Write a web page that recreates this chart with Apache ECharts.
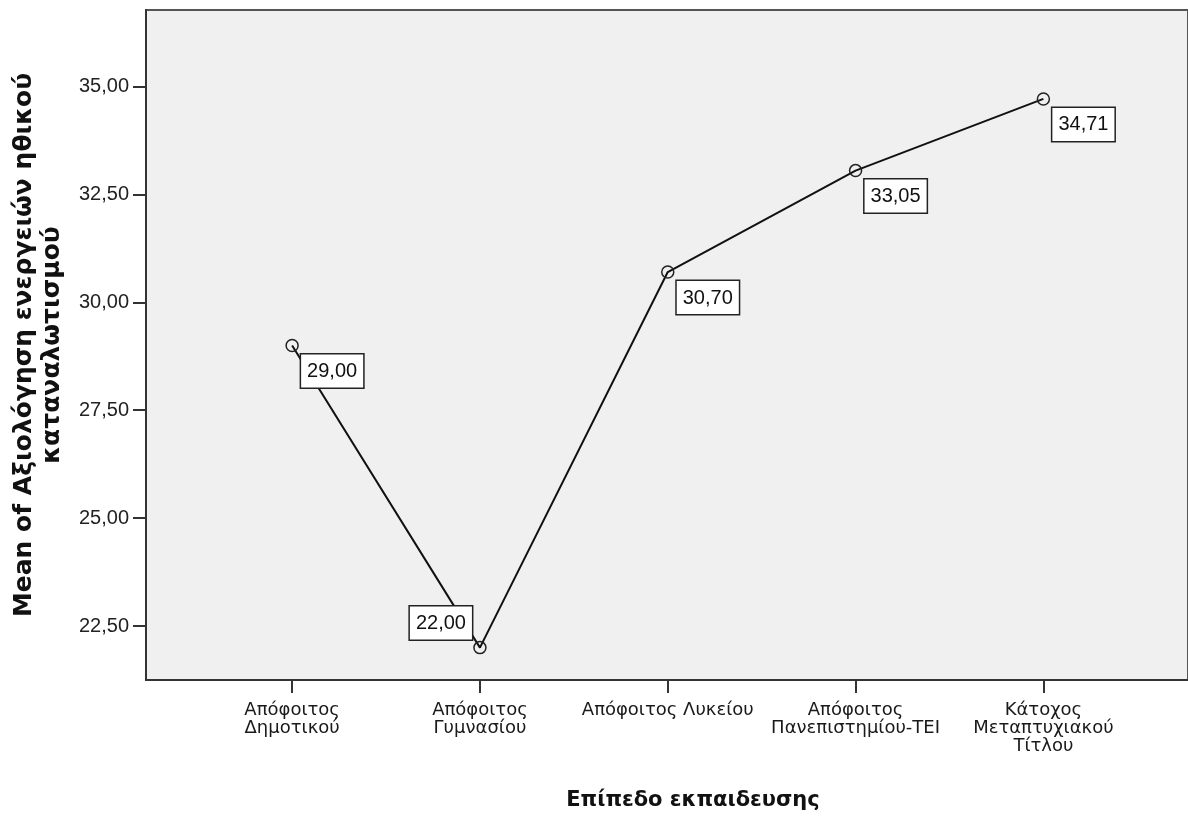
<!DOCTYPE html>
<html>
<head>
<meta charset="utf-8">
<script src="https://cdn.jsdelivr.net/npm/echarts@6/dist/echarts.min.js"></script>
<style>
html,body{margin:0;padding:0;background:#fff;}
#chart{width:1188px;height:817px;}
</style>
</head>
<body>
<div id="chart"></div>
<script>
const categories = [
  'Απόφοιτος\nΔημοτικού',
  'Απόφοιτος\nΓυμνασίου',
  'Απόφοιτος Λυκείου',
  'Απόφοιτος\nΠανεπιστημίου-ΤΕΙ',
  'Κάτοχος\nΜεταπτυχιακού\nΤίτλου'
];
const means = [29.00, 22.00, 30.70, 33.05, 34.71];
const yTicks = [22.5, 25, 27.5, 30, 32.5, 35];
const xTicks = [1, 2, 3, 4, 5];
const yTitle = 'Mean of Αξιολόγηση ενεργειών ηθικού\nκαταναλωτισμού';
const xTitle = 'Επίπεδο εκπαιδευσης';

const fmt = v => v.toFixed(2).replace('.', ',');
const font = 'Liberation Sans, Arial, sans-serif';
const wideFont = 'DejaVu Sans, sans-serif';

const chart = echarts.init(document.getElementById('chart'), null, {renderer: 'canvas'});

const labelBase = {
  show: true,
  formatter: p => fmt(p.value[1]),
  fontFamily: font,
  fontSize: 20,
  color: '#111',
  backgroundColor: '#fff',
  borderColor: '#222',
  borderWidth: 1.5,
  padding: [7, 6, 6, 6],
  lineHeight: 20,
  position: 'inside'
};

const seriesData = means.map((v, i) => {
  const below = i !== 1;
  return {
    value: [xTicks[i], v],
    label: below
      ? {align: 'left', verticalAlign: 'top', offset: [9, 9]}
      : {align: 'right', verticalAlign: 'bottom', offset: [-8, -8]}
  };
});

chart.setOption({
  animation: false,
  backgroundColor: '#fff',
  grid: {
    left: 146, top: 10, right: -2, bottom: 137,
    show: true,
    backgroundColor: '#f0f0f0',
    borderColor: '#555',
    borderWidth: 2
  },
  xAxis: {
    type: 'value',
    min: 0.222,
    max: 5.77,
    splitLine: {show: false},
    axisLine: {show: true, onZero: false, lineStyle: {color: '#333', width: 2}},
    axisTick: {show: true, customValues: xTicks, length: 13, lineStyle: {color: '#333', width: 2}},
    axisLabel: {
      customValues: xTicks,
      formatter: v => categories[Math.round(v) - 1] || '',
      fontFamily: wideFont,
      fontSize: 18,
      lineHeight: 18,
      color: '#1a1a1a',
      margin: 21,
      align: 'center'
    }
  },
  yAxis: {
    type: 'value',
    min: 21.25,
    max: 36.77,
    name: yTitle,
    nameLocation: 'middle',
    nameRotate: 90,
    nameGap: 80,
    nameTextStyle: {
      fontFamily: wideFont,
      fontSize: 25,
      fontWeight: 'bold',
      color: '#111',
      lineHeight: 28,
      align: 'center'
    },
    splitLine: {show: false},
    axisLine: {show: true, lineStyle: {color: '#333', width: 2}},
    axisTick: {show: true, customValues: yTicks, length: 13, lineStyle: {color: '#333', width: 2}},
    axisLabel: {
      customValues: yTicks,
      formatter: v => fmt(v),
      fontFamily: font,
      fontSize: 20,
      color: '#222',
      margin: 17
    }
  },
  series: [{
    type: 'line',
    data: seriesData,
    symbol: 'circle',
    symbolSize: 12,
    itemStyle: {color: 'rgba(0,0,0,0)', borderColor: '#222', borderWidth: 1.5},
    lineStyle: {color: '#111', width: 2},
    label: labelBase,
    z: 3
  }],
  graphic: [{
    type: 'text',
    x: 693,
    y: 801,
    style: {
      text: xTitle,
      font: 'bold 21px ' + wideFont,
      fill: '#111',
      align: 'center',
      verticalAlign: 'middle'
    }
  }]
});
</script>
</body>
</html>
